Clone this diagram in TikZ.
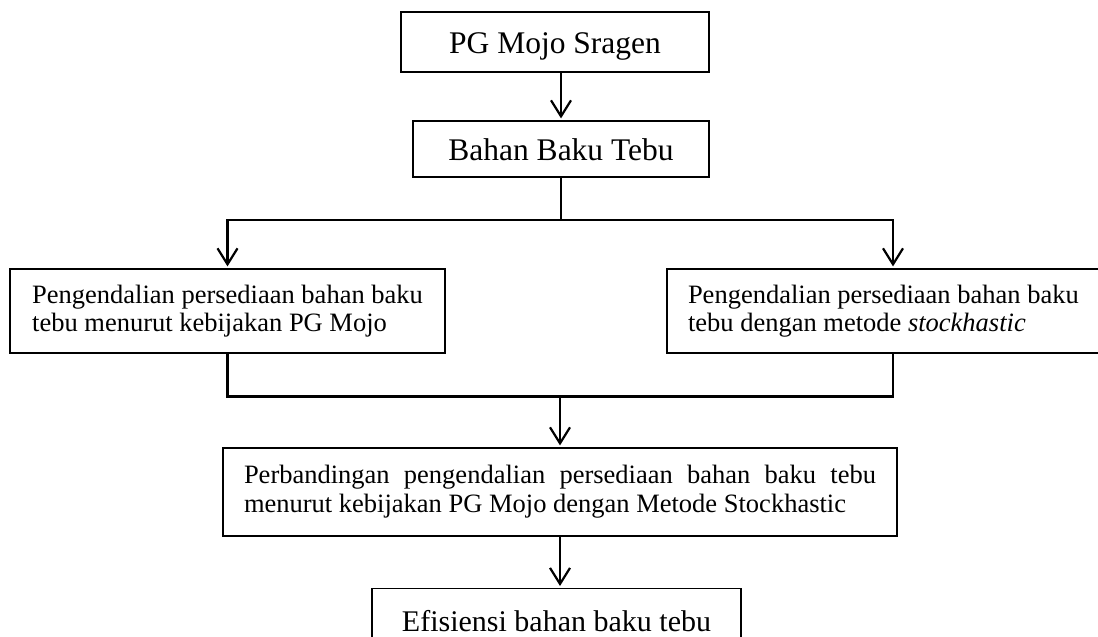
\documentclass[tikz,border=0pt]{standalone}
\usepackage{fontspec}
\setmainfont{Liberation Serif}
\usetikzlibrary{arrows.meta, positioning}

\begin{document}
\begin{tikzpicture}[x=1pt, y=-1pt,
  kotak/.style={draw, line width=1.2pt, inner xsep=21pt, inner ysep=0pt},
  besar/.style={font=\fontsize{31.5}{36}\selectfont, text height=30pt, text depth=7pt},
  kecil/.style={font=\fontsize{26.5}{27.5}\selectfont, align=flush left},
  garis/.style={line width=2.2pt},
  panah/.style={garis, -{Straight Barb[length=16pt,width=20pt]}, shorten >=2pt}]
\useasboundingbox (0,0) rectangle (1098,637);
\clip (0,0) rectangle (1098,637);

\node[kotak, besar, minimum width=308pt, minimum height=60pt] (sragen) at (555,42) {PG Mojo Sragen};
\node[kotak, besar, minimum width=296pt, minimum height=56pt] (tebu) at (561,149) {Bahan Baku Tebu};
\node[kotak, kecil, minimum width=435pt, minimum height=84pt] (kiri) at (227.5,311)
  {Pengendalian persediaan bahan baku\\tebu menurut kebijakan PG Mojo};
\node[kotak, kecil, text width=410pt, minimum height=84pt] (kanan) at (893,311)
  {Pengendalian persediaan bahan baku\\tebu dengan metode \textit{stockhastic}};
\node[kotak, font=\fontsize{26.5}{29}\selectfont, text width=632pt, align=justify, minimum height=88pt] (banding) at (560,492)
  {Perbandingan pengendalian persediaan bahan baku tebu\linebreak menurut kebijakan PG Mojo dengan Metode Stockhastic};
\node[kotak, font=\fontsize{30}{36}\selectfont, text height=21pt, text depth=0pt, minimum width=369pt, minimum height=64pt, anchor=north] (hasil) at (556.5,588) {Efisiensi bahan baku tebu};

\path (tebu.south) ++(0,42) coordinate (cabang);
\path (banding.north) ++(0,-51) coordinate (gabung);

\draw[panah] (sragen.south -| tebu.north) -- (tebu.north);
\draw[panah] (tebu.south) -- (cabang) -| (kiri.north);
\draw[panah] (tebu.south) -- (cabang) -| (kanan.north);
\draw[garis] (kiri.south) |- (gabung) -| (kanan.south);
\draw[panah] (gabung) -- (banding.north);
\draw[panah] (banding.south) -- (banding.south |- hasil.north);
\end{tikzpicture}
\end{document}
